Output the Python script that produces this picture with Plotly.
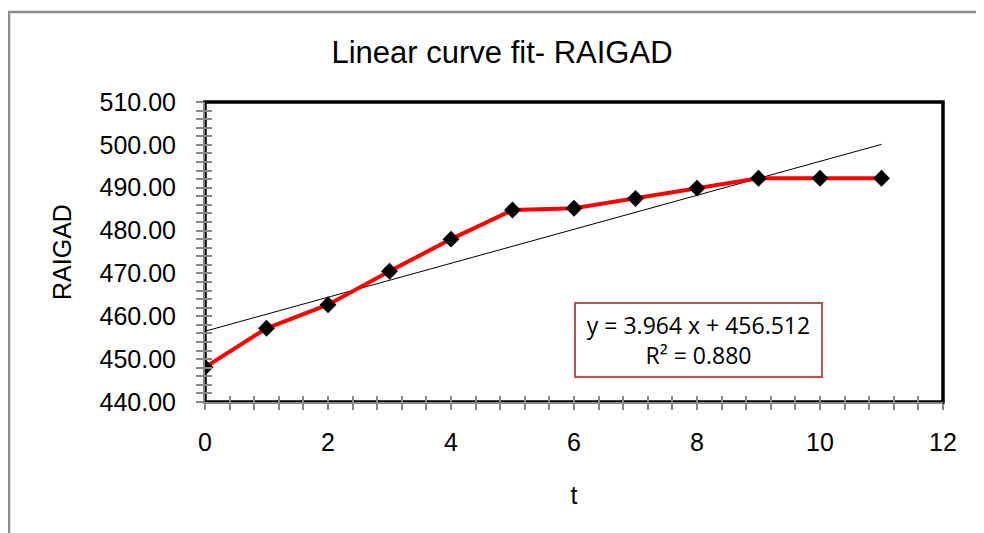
import plotly.graph_objects as go

# ---- data ----
t_values = [0, 1, 2, 3, 4, 5, 6, 7, 8, 9, 10, 11]
raigad = [448.1, 457.2, 462.7, 470.5, 478.0, 484.8, 485.2, 487.5, 489.9, 492.2, 492.2, 492.2]
fit_slope = 3.964
fit_intercept = 456.512
fit_r2 = 0.880
y_ticks = [440, 450, 460, 470, 480, 490, 500, 510]
x_ticks = [0, 2, 4, 6, 8, 10, 12]
title_text = "Linear curve fit- RAIGAD"
x_title = "t"
y_title = "RAIGAD"

trend_x = [t_values[0], t_values[-1]]
trend_y = [fit_intercept + fit_slope * v for v in trend_x]

FONT = "Liberation Sans, Arial, sans-serif"
AXIS_GRAY = "#868686"

fig = go.Figure()
fig.add_trace(go.Scatter(x=trend_x, y=trend_y, mode="lines",
                         line=dict(color="black", width=1), hoverinfo="skip",
                         showlegend=False))
fig.add_trace(go.Scatter(x=t_values, y=raigad, mode="lines+markers",
                         line=dict(color="#FF0000", width=4),
                         marker=dict(symbol="diamond", size=13, color="black"),
                         showlegend=False))
# empty trace to host the overlay axes (inner half of the crossing ticks)
fig.add_trace(go.Scatter(x=[None], y=[None], xaxis="x2", yaxis="y2",
                         showlegend=False, hoverinfo="skip"))

OFF = 8  # page body margin
W, H = 976, 525
L, T = 205 - OFF, 102 - OFF
pw, ph = 738, 300
R, B = W - L - pw, H - T - ph

def px(xpix):
    return (xpix - OFF - L) / pw

def py(ypix):
    return (T + ph - (ypix - OFF)) / ph

common_x = dict(range=[0, 12], tickvals=x_ticks, showgrid=False, zeroline=False,
                fixedrange=True)
common_y = dict(range=[440, 510], tickvals=y_ticks, showgrid=False, zeroline=False,
                fixedrange=True)

fig.update_layout(
    width=W, height=H,
    margin=dict(l=L, r=R, t=T, b=B),
    paper_bgcolor="white", plot_bgcolor="white",
    font=dict(family=FONT, color="black"),
    title=dict(text=title_text, x=(502 - OFF) / W, xanchor="center",
               y=1 - (52 - OFF) / H, yanchor="middle",
               font=dict(size=31, family=FONT, color="black")),
    xaxis=dict(**common_x, ticks="outside", ticklen=6, tickwidth=2, tickcolor=AXIS_GRAY,
               showline=True, linecolor=AXIS_GRAY, linewidth=2,
               minor=dict(dtick=0.4, ticks="outside", ticklen=6, tickwidth=2,
                          tickcolor=AXIS_GRAY),
               tickfont=dict(size=25, family=FONT), ticklabelstandoff=11,
               title=dict(text=x_title, font=dict(size=25, family=FONT), standoff=31)),
    yaxis=dict(**common_y, ticks="outside", ticklen=7, tickwidth=2, tickcolor=AXIS_GRAY,
               showline=True, linecolor=AXIS_GRAY, linewidth=2,
               minor=dict(dtick=2, ticks="outside", ticklen=7, tickwidth=2,
                          tickcolor=AXIS_GRAY),
               tickformat=".2f",
               tickfont=dict(size=25, family=FONT), ticklabelstandoff=15,
               title=dict(text=y_title, font=dict(size=25, family=FONT), standoff=21)),
    xaxis2=dict(**common_x, overlaying="x", anchor="y2", side="bottom",
                ticks="inside", ticklen=6, tickwidth=2, tickcolor=AXIS_GRAY,
                showticklabels=False, showline=False,
                minor=dict(dtick=0.4, ticks="inside", ticklen=6, tickwidth=2,
                           tickcolor=AXIS_GRAY)),
    yaxis2=dict(**common_y, overlaying="y", anchor="x2", side="left",
                ticks="inside", ticklen=7, tickwidth=2, tickcolor=AXIS_GRAY,
                showticklabels=False, showline=False,
                minor=dict(dtick=2, ticks="inside", ticklen=7, tickwidth=2,
                           tickcolor=AXIS_GRAY)),
    shapes=[
        # plot area border (black, thick)
        dict(type="rect", xref="paper", yref="paper", x0=0, y0=0, x1=1, y1=1,
             line=dict(color="black", width=3.5), layer="below"),
        # outer chart-area border (gray), running off the right and bottom edges
        dict(type="path", xref="paper", yref="paper",
             path=f"M {px(9)} {py(560)} L {px(9)} {py(12)} L {px(1000)} {py(12)}",
             line=dict(color="#8C8C8C", width=2.5)),
    ],
    annotations=[
        dict(xref="paper", yref="paper", x=px(698.5), y=py(340), xanchor="center",
             yanchor="middle",
             text=f"y = {fit_slope:.3f} x + {fit_intercept:.3f}<br>R² = {fit_r2:.3f}",
             showarrow=False, align="center",
             font=dict(size=23, family="Open Sans, Liberation Sans, sans-serif",
                       color="black"),
             bordercolor="#C0504D", borderwidth=2, borderpad=6, bgcolor="white",
             width=233, height=60),
    ],
)

fig.write_html("out.html")
